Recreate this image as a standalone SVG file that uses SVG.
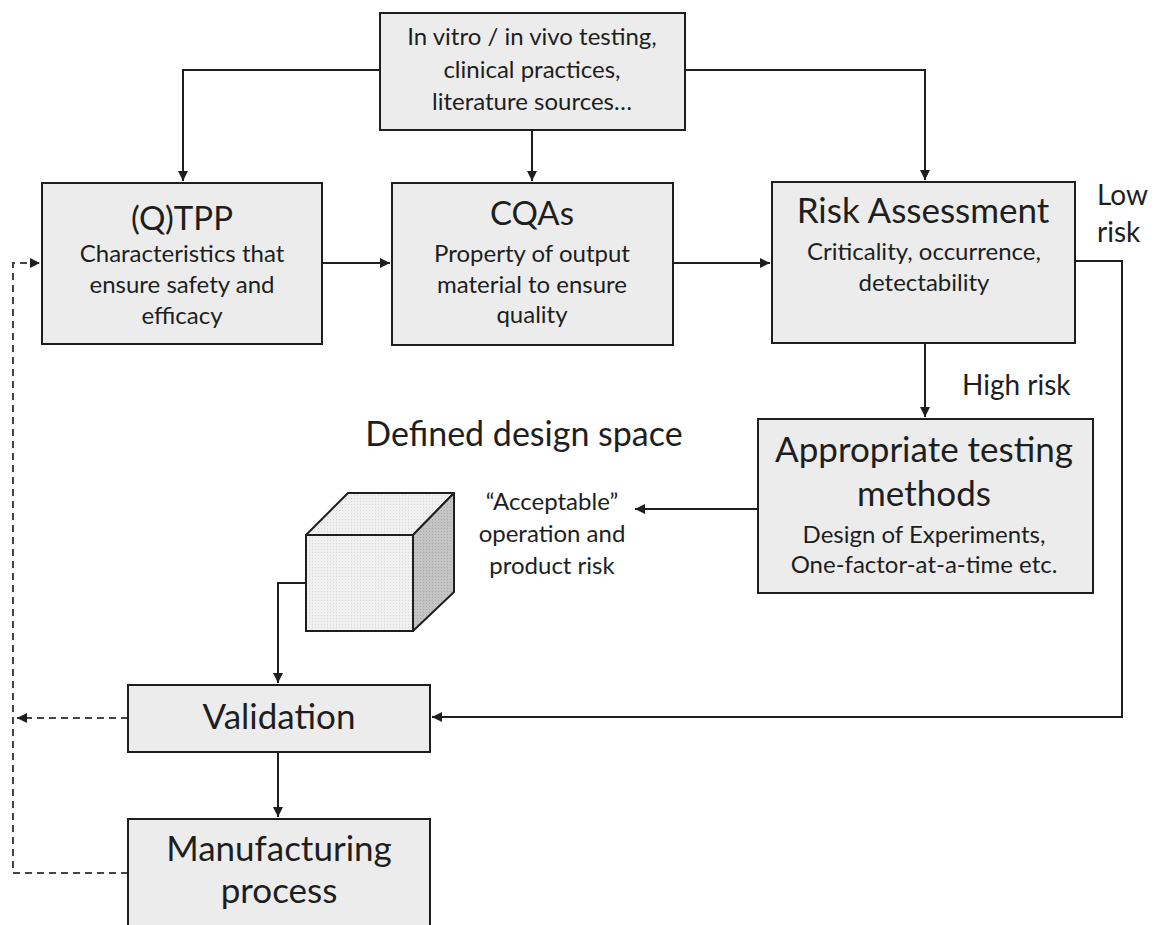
<svg xmlns="http://www.w3.org/2000/svg" width="1156" height="925" viewBox="0 0 1156 925">
<defs>
<style>
.box{fill:#ececec;stroke:#1e1e1e;stroke-width:2}
.t{font-family:Lato,"Open Sans",sans-serif;fill:#1e1e1e;text-anchor:middle}
.big{font-size:35px}
.sm{font-size:24px}
.lbl{font-size:28px;text-anchor:start}
.line{fill:none;stroke:#1e1e1e;stroke-width:2}
.dash{fill:none;stroke:#444;stroke-width:2;stroke-dasharray:7 5}
</style>
<marker id="ah" viewBox="0 0 10 10" refX="10" refY="5" markerWidth="5" markerHeight="5" orient="auto" markerUnits="strokeWidth">
<path d="M0,0 L10,5 L0,10 z" fill="#1e1e1e"/>
</marker>
<pattern id="dots" width="3" height="3" patternUnits="userSpaceOnUse">
<rect width="3" height="3" fill="#f0f0f0"/>
<rect width="1" height="1" fill="#d8d8d8"/>
</pattern>
<pattern id="dots2" width="3" height="3" patternUnits="userSpaceOnUse">
<rect width="3" height="3" fill="#c4c4c4"/>
<rect width="1" height="1" fill="#a8a8a8"/>
</pattern>
</defs>
<rect width="1156" height="925" fill="#ffffff"/>

<g id="connectors">
<path class="line" d="M380,70 H183 V181" marker-end="url(#ah)"/>
<path class="line" d="M532,130 V181" marker-end="url(#ah)"/>
<path class="line" d="M685,70 H925 V180" marker-end="url(#ah)"/>
<path class="line" d="M322,263 H390" marker-end="url(#ah)"/>
<path class="line" d="M673,263 H770" marker-end="url(#ah)"/>
<path class="line" d="M925,343 V417" marker-end="url(#ah)"/>
<path class="line" d="M1075,261 H1122 V717 H432" marker-end="url(#ah)"/>
<path class="line" d="M758,509 H635" marker-end="url(#ah)"/>
<path class="line" d="M306,583 H278 V683" marker-end="url(#ah)"/>
<path class="line" d="M278,752 V817" marker-end="url(#ah)"/>
<path class="dash" d="M128,718 H17" marker-end="url(#ah)"/>
<path class="dash" d="M128,873 H13 V263 H40" marker-end="url(#ah)"/>
</g>

<g id="sources">
<rect class="box" x="380" y="13" width="305" height="117"/>
<text class="t sm" x="532" y="45">In vitro /  in vivo testing,</text>
<text class="t sm" x="532" y="78">clinical practices,</text>
<text class="t sm" x="532" y="110">literature sources…</text>
</g>

<g id="qtpp">
<rect class="box" x="42" y="183" width="280" height="161"/>
<text class="t" style="font-size:33px" x="182" y="230">(Q)TPP</text>
<text class="t sm" x="182" y="262">Characteristics that</text>
<text class="t sm" x="182" y="293">ensure safety and</text>
<text class="t sm" x="182" y="324">efficacy</text>
</g>

<g id="cqas">
<rect class="box" x="392" y="183" width="281" height="162"/>
<text class="t" style="font-size:33px" x="532" y="225">CQAs</text>
<text class="t sm" x="532" y="262">Property of output</text>
<text class="t sm" x="532" y="293">material to ensure</text>
<text class="t sm" x="532" y="323">quality</text>
</g>

<g id="risk">
<rect class="box" x="772" y="182" width="303" height="161"/>
<text class="t big" x="923" y="223">Risk Assessment</text>
<text class="t sm" x="924" y="260">Criticality, occurrence,</text>
<text class="t sm" x="924" y="291">detectability</text>
</g>

<g id="low-risk-label">
<text class="t lbl" x="1097" y="205">Low</text>
<text class="t lbl" x="1097" y="242">risk</text>
</g>

<g id="high-risk-label">
<text class="t lbl" x="962" y="395">High risk</text>
</g>

<g id="testing">
<rect class="box" x="758" y="419" width="335" height="174"/>
<text class="t big" x="924" y="462">Appropriate testing</text>
<text class="t big" x="924" y="506">methods</text>
<text class="t sm" x="924" y="543">Design of Experiments,</text>
<text class="t sm" x="924" y="573">One-factor-at-a-time etc.</text>
</g>

<g id="design-space-label">
<text class="t" style="font-size:34px" x="524" y="446">Defined design space</text>
</g>

<g id="acceptable-label">
<text class="t sm" x="552" y="510">“Acceptable”</text>
<text class="t sm" x="552" y="542">operation and</text>
<text class="t sm" x="552" y="574">product risk</text>
</g>

<g id="cube">
<path d="M306,535 L348,493 H454 L413,535 Z" fill="url(#dots)" stroke="#1e1e1e" stroke-width="2" stroke-linejoin="round"/>
<path d="M413,535 L454,493 V592 L413,631 Z" fill="url(#dots2)" stroke="#1e1e1e" stroke-width="2" stroke-linejoin="round"/>
<rect x="306" y="535" width="107" height="96" fill="url(#dots)" stroke="#1e1e1e" stroke-width="2"/>
</g>

<g id="validation">
<rect class="box" x="128" y="685" width="302" height="67"/>
<text class="t big" x="279" y="729">Validation</text>
</g>

<g id="manufacturing">
<rect class="box" x="128" y="819" width="302" height="120"/>
<text class="t big" x="279" y="861">Manufacturing</text>
<text class="t big" x="279" y="903">process</text>
</g>
</svg>
